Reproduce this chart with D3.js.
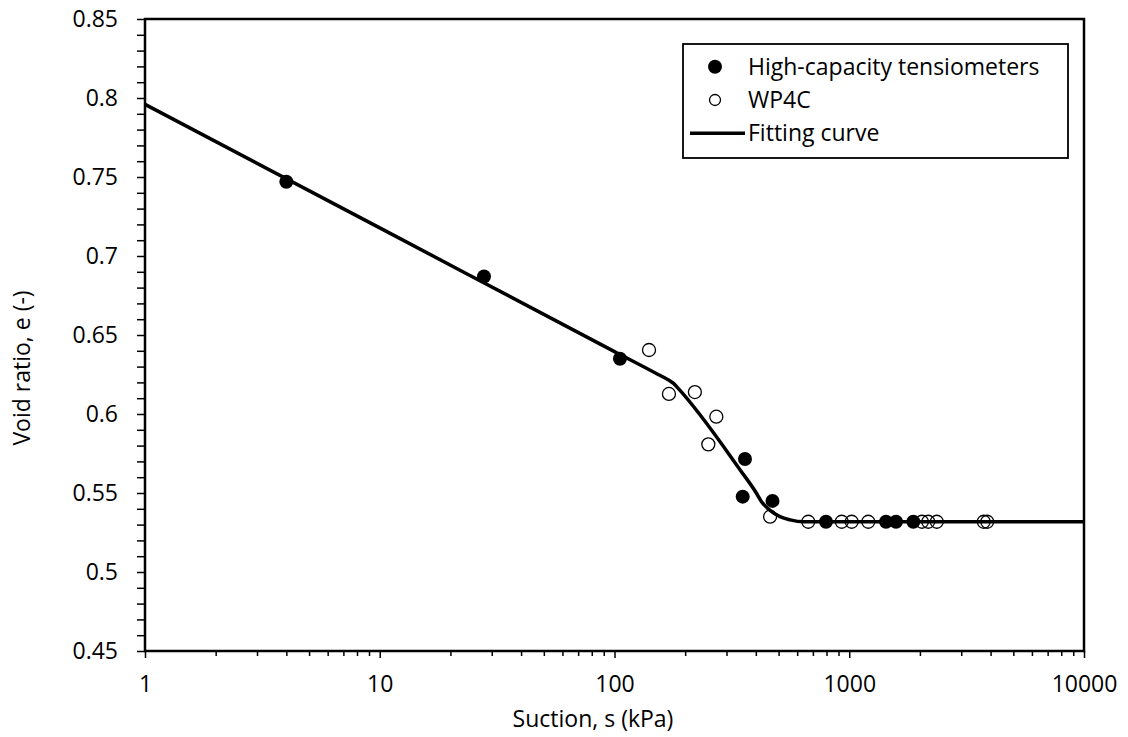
<!DOCTYPE html>
<html>
<head>
<meta charset="utf-8">
<script src="https://cdn.jsdelivr.net/npm/d3@7"></script>
<style>
  html, body { margin: 0; padding: 0; background: #fff; }
  svg { display: block; }
  text { font-family: "Open Sans", "Noto Sans", sans-serif; fill: #000; }
</style>
</head>
<body>
<svg id="chart" width="1128" height="737"></svg>
<script>
// ---- Data ----
const tensioSuction = [4.0, 27.8, 105.5, 351.6, 359.6, 471, 796, 1434, 1582, 1875];
const tensioVoid    = [0.747, 0.687, 0.635, 0.5477, 0.5715, 0.545, 0.5318, 0.5318, 0.5318, 0.5318];

const wp4cSuction = [140.3, 170.6, 220, 251, 271.5, 460, 669, 929, 1024, 1205, 2040, 2170, 2360, 3740, 3870];
const wp4cVoid    = [0.6405, 0.6127, 0.6139, 0.5808, 0.5983, 0.535, 0.5318, 0.5318, 0.5318, 0.5318, 0.5318, 0.5318, 0.5318, 0.5318, 0.5318];

const fitSuction = [1, 10, 100, 150, 172, 178, 186, 343, 400, 423, 460, 507, 560, 640, 10000];
const fitVoid    = [0.796, 0.7178, 0.6395, 0.6258, 0.6210, 0.6195, 0.6165, 0.5646, 0.5505, 0.5445, 0.539, 0.535, 0.533, 0.5318, 0.5318];

const xTickValues = [1, 10, 100, 1000, 10000];
const xTickLabels = ["1", "10", "100", "1000", "10000"];
const yTickValues = [0.45, 0.5, 0.55, 0.6, 0.65, 0.7, 0.75, 0.8, 0.85];
const yTickLabels = ["0.45", "0.5", "0.55", "0.6", "0.65", "0.7", "0.75", "0.8", "0.85"];

const legendLabels = ["High-capacity tensiometers", "WP4C", "Fitting curve"];
const xTitle = "Suction, s (kPa)";
const yTitle = "Void ratio, e (-)";

// ---- Layout ----
const plot = { left: 145, right: 1084, top: 19, bottom: 651 };
const svg = d3.select("#chart");

const x = d3.scaleLog().domain([1, 10000]).range([plot.left, plot.right]);
const y = d3.scaleLinear().domain([0.45, 0.85]).range([plot.bottom, plot.top]);

const FS = 23;

// Minor ticks
const xMinor = [];
for (let d = 1; d < 10000; d *= 10) for (let k = 2; k <= 9; k++) xMinor.push(d * k);
const yMinor = d3.range(45, 86).map(v => v / 100).filter(v => !yTickValues.some(t => Math.abs(t - v) < 1e-9));

// X minor ticks
svg.append("g").attr("transform", `translate(0,${plot.bottom})`)
  .call(d3.axisBottom(x).tickValues(xMinor).tickSize(5).tickFormat(""))
  .call(g => g.select(".domain").remove())
  .call(g => g.selectAll("line").attr("stroke", "#000").attr("stroke-width", 1.5));

// X major axis
svg.append("g").attr("transform", `translate(0,${plot.bottom})`)
  .call(d3.axisBottom(x).tickValues(xTickValues).tickSize(7).tickPadding(18)
        .tickFormat((d, i) => xTickLabels[i]))
  .call(g => g.select(".domain").remove())
  .call(g => g.selectAll("line").attr("stroke", "#000").attr("stroke-width", 1.5))
  .call(g => g.selectAll("text").attr("font-size", FS).attr("font-family", "Open Sans"));

// Y minor ticks
svg.append("g").attr("transform", `translate(${plot.left},0)`)
  .call(d3.axisLeft(y).tickValues(yMinor).tickSize(8).tickFormat(""))
  .call(g => g.select(".domain").remove())
  .call(g => g.selectAll("line").attr("stroke", "#000").attr("stroke-width", 1.5));

// Y major axis
svg.append("g").attr("transform", `translate(${plot.left},0)`)
  .call(d3.axisLeft(y).tickValues(yTickValues).tickSize(8).tickPadding(19)
        .tickFormat((d, i) => yTickLabels[i]))
  .call(g => g.select(".domain").remove())
  .call(g => g.selectAll("line").attr("stroke", "#000").attr("stroke-width", 1.5))
  .call(g => g.selectAll("text").attr("font-size", FS).attr("font-family", "Open Sans"));

// Plot border
svg.append("rect")
  .attr("x", plot.left).attr("y", plot.top)
  .attr("width", plot.right - plot.left).attr("height", plot.bottom - plot.top)
  .attr("fill", "none").attr("stroke", "#000").attr("stroke-width", 2.5);

// Fitting curve
const fitData = fitSuction.map((s, i) => [s, fitVoid[i]]);
const line = d3.line().x(d => x(d[0])).y(d => y(d[1])).curve(d3.curveMonotoneX);
svg.append("path").datum(fitData)
  .attr("d", line).attr("fill", "none").attr("stroke", "#000").attr("stroke-width", 3.5)
  .attr("stroke-linejoin", "round");

// Tensiometer (filled)
svg.append("g").selectAll("circle")
  .data(tensioSuction.map((s, i) => [s, tensioVoid[i]]))
  .join("circle")
  .attr("cx", d => x(d[0])).attr("cy", d => y(d[1])).attr("r", 7)
  .attr("fill", "#000");

// WP4C (open)
svg.append("g").selectAll("circle")
  .data(wp4cSuction.map((s, i) => [s, wp4cVoid[i]]))
  .join("circle")
  .attr("cx", d => x(d[0])).attr("cy", d => y(d[1])).attr("r", 6.5)
  .attr("fill", "none").attr("stroke", "#000").attr("stroke-width", 1.3);

// Legend
const lg = svg.append("g");
lg.append("rect").attr("x", 683).attr("y", 44).attr("width", 385).attr("height", 114)
  .attr("fill", "#fff").attr("stroke", "#000").attr("stroke-width", 1.8);
const rowsY = [66.7, 100, 133.3];
lg.append("circle").attr("cx", 715).attr("cy", rowsY[0]).attr("r", 7).attr("fill", "#000");
lg.append("circle").attr("cx", 715).attr("cy", rowsY[1]).attr("r", 5.5)
  .attr("fill", "none").attr("stroke", "#000").attr("stroke-width", 1.3);
lg.append("line").attr("x1", 690).attr("x2", 745).attr("y1", rowsY[2]).attr("y2", rowsY[2])
  .attr("stroke", "#000").attr("stroke-width", 3.5);
lg.selectAll("text.lab").data(legendLabels).join("text").attr("class", "lab")
  .attr("x", 748).attr("y", (d, i) => rowsY[i]).attr("dy", "0.35em")
  .attr("font-size", FS).text(d => d);

// Axis titles
svg.append("text").attr("x", 593).attr("y", 727).attr("text-anchor", "middle")
  .attr("font-size", FS).text(xTitle);
svg.append("text").attr("transform", `translate(30,368) rotate(-90)`)
  .attr("text-anchor", "middle").attr("font-size", FS).text(yTitle);
</script>
</body>
</html>
